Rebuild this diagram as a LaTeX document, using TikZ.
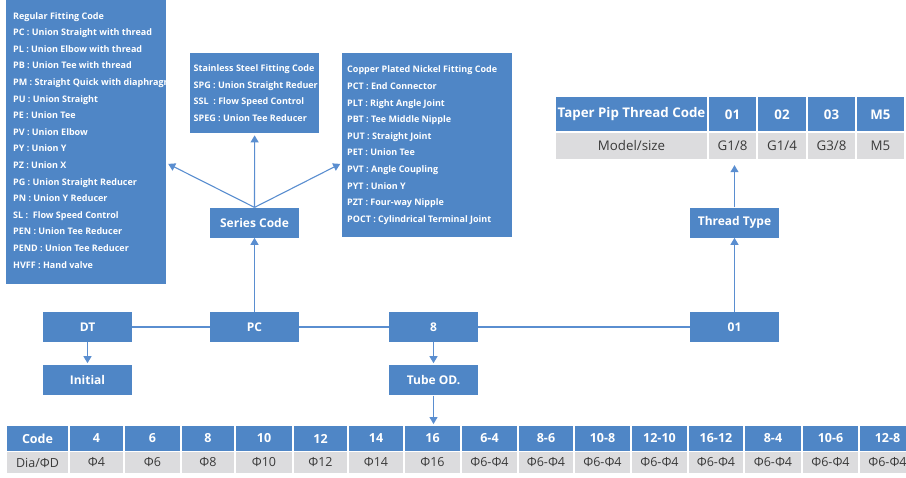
\documentclass[tikz,border=0pt]{standalone}
\usepackage{fontspec}
\setmainfont{Open Sans}
\usepackage{xcolor}
\usepackage{tikz}
\usetikzlibrary{arrows.meta, positioning}

\definecolor{boxblue}{HTML}{4F86C6}
\definecolor{lineblue}{HTML}{5A8ED0}
\definecolor{cellgray}{HTML}{DCDCDE}
\definecolor{celltext}{HTML}{3A3A3A}

\begin{document}
\begin{tikzpicture}[
  x=1pt, y=-1pt,
  block/.style={rectangle, fill=boxblue, text=white, minimum width=89pt,
                minimum height=30pt, inner sep=0pt,
                font=\fontsize{12}{14}\selectfont\bfseries},
  panel/.style={rectangle, fill=boxblue, inner sep=0pt, anchor=north west},
  paneltext/.style={anchor=west, align=left, inner sep=0pt, text=white,
                    font=\fontsize{9}{16.6}\selectfont\bfseries},
  hcell/.style={rectangle, fill=boxblue, text=white, inner sep=0pt,
                font=\fontsize{12.5}{14}\selectfont\bfseries},
  rcell/.style={rectangle, fill=cellgray, text=celltext, inner sep=0pt,
                font=\fontsize{12.5}{14}\selectfont},
  link/.style={draw=lineblue, line width=1.1pt},
  arrow/.style={link, -{Triangle[width=8pt, length=7pt]}, shorten >=2pt},
]
\clip (0,0) rectangle (906,478);
\fill[white] (0,0) rectangle (906,478);

% code row
\node[block] (dt)  at (87.5,327)  {DT};
\node[block] (pc)  at (254.5,327) {PC};
\node[block] (od)  at (433.5,327) {8};
\node[block] (thr) at (734.5,327) {01};
\node[block, below=23pt of dt]  (init)  {Initial};
\node[block, below=23pt of od]  (tube)  {Tube OD.};
\node[block, above=74pt of pc]  (ser)   {Series Code};
\node[block, above=74pt of thr] (ttype) {Thread Type};

% fitting code panels
\node[panel, minimum width=160pt, minimum height=284pt] (reg) at (6,0) {};
\begin{scope}
\clip (reg.south west) rectangle (reg.north east);
\node[paneltext] (regtxt) at ([xshift=7pt, yshift=2pt]reg.west)
  {Regular Fitting Code\\
   PC : Union Straight with thread\\
   PL : Union Elbow with thread\\
   PB : Union Tee with thread\\
   PM : Straight Quick with diaphragm\\
   PU : Union Straight\\
   PE : Union Tee\\
   PV : Union Elbow\\
   PY : Union Y\\
   PZ : Union X\\
   PG : Union Straight Reducer\\
   PN : Union Y Reducer\\
   SL :\ \ Flow Speed Control\\
   PEN : Union Tee Reducer\\
   PEND : Union Tee Reducer\\
   HVFF : Hand valve};
\end{scope}
\node[panel, minimum width=129pt, minimum height=80pt] (ss) at (190,53) {};
\node[paneltext] (sstxt) at ([xshift=3.5pt]ss.west)
  {Stainless Steel Fitting Code\\
   SPG : Union Straight Reduer\\
   SSL\ \ : Flow Speed Control\\
   SPEG : Union Tee Reducer};
\node[panel, minimum width=170pt, minimum height=184pt] (cop) at (342,53) {};
\node[paneltext] (coptxt) at ([xshift=5pt]cop.west)
  {Copper Plated Nickel Fitting Code\\
   PCT : End Connector\\
   PLT : Right Angle Joint\\
   PBT : Tee Middle Nipple\\
   PUT : Straight Joint\\
   PET : Union Tee\\
   PVT : Angle Coupling\\
   PYT : Union Y\\
   PZT : Four-way Nipple\\
   POCT : Cylindrical Terminal Joint};

% thread table
\foreach \l/\r/\code/\size [count=\i] in {555/708/{Taper Pip Thread Code}/{Model/size},
    708/757/01/{G1/8}, 757/807/02/{G1/4}, 807/856/03/{G3/8}, 856/905/M5/M5} {
  \node[hcell, minimum width={\r-\l-1.5}, minimum height=34pt,
        font=\fontsize{13.3}{15}\selectfont\bfseries]
    (t\i) at ({(\l+\r)/2},114.5) {\code};
  \node[rcell, minimum width={\r-\l-1.5}, minimum height=26pt,
        font=\fontsize{13.3}{15}\selectfont]
    (m\i) at ({(\l+\r)/2},146) {\size};
}

% tube size table
\foreach \l/\r/\code/\dia [count=\i] in {6/69/Code/{Dia/ΦD}, 69/124/4/Φ4,
    124/181/6/Φ6, 181/235/8/Φ8, 235/293/10/Φ10, 293/348/12/Φ12,
    348/404/14/Φ14, 404/461/16/Φ16, 461/518/6-4/Φ6-Φ4, 518/574/8-6/Φ6-Φ4,
    574/631/10-8/Φ6-Φ4, 631/688/12-10/Φ6-Φ4, 688/744/16-12/Φ6-Φ4,
    744/802/8-4/Φ6-Φ4, 802/859/10-6/Φ6-Φ4, 859/916/12-8/Φ6-Φ4} {
  \node[hcell, minimum width={\r-\l-1.5}, minimum height=24.5pt]
    (c\i) at ({(\l+\r)/2},438.5) {\code};
  \node[rcell, minimum width={\r-\l-1.5}, minimum height=21pt]
    (d\i) at ({(\l+\r)/2},462.5) {\dia};
}

% connectors
\coordinate (fork) at (0,163);
\draw[link] (dt) -- (pc) -- (od) -- (thr);
\draw[arrow] (dt) -- (init);
\draw[arrow] (od) -- (tube);
\draw[arrow] (tube.south) -- (tube.south |- c8.north);
\draw[arrow, shorten >=0pt] (pc) -- (ser);
\draw[arrow] (ser.north) -- (ss);
\draw[arrow] (ser.north) -- (reg.east |- fork);
\draw[arrow] (ser.north) -- (cop.west |- fork);
\draw[arrow, shorten >=0pt] (thr) -- (ttype);
\draw[arrow, shorten >=6pt] (ttype.north) -- (ttype.north |- m2.south);
\end{tikzpicture}
\end{document}
